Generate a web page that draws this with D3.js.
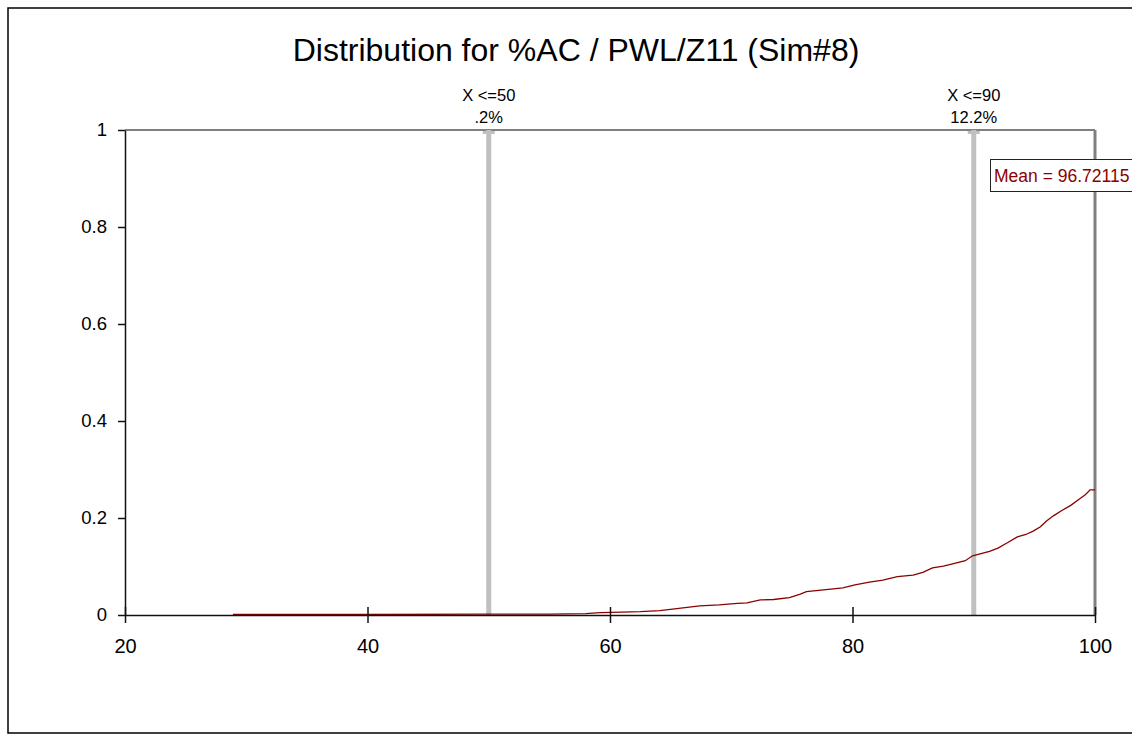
<html>
<head>
<script src='https://d3js.org/d3.v7.min.js'></script>
<style>
body { margin: 0; background: #fff; }
text { font-family: 'Liberation Sans', Arial, sans-serif; }
.frame { fill: none; stroke: #000; stroke-width: 1.5px; }
.axis path, .axis line { stroke: #111; stroke-width: 1.5px; }
.axis text { fill: #000; }
.curve { fill: none; stroke: #8b0000; stroke-width: 1.3px; }
.marker { stroke: #c0c0c0; stroke-width: 5px; }
</style>
</head>
<body>
<svg id="chart" width=1132 height=734></svg>
<script>
// cumulative curve
var xs = [28.9, 40, 50, 55, 58, 59.2, 61, 62.5, 64.1, 65.5, 67.4, 69, 70.5, 71.3, 72.4, 73.5, 74.8, 75.7, 76.2, 77.6,
          79.2, 80.2, 81.4, 82.5, 83.7, 85.0, 85.8, 86.6, 87.5, 88.5, 89.3, 89.9, 91.3, 92.0, 92.7, 93.6, 94.3, 94.9,
          95.5, 96.0, 96.6, 97.3, 98.0, 98.6, 99.2, 99.6, 100];
var ys = [0.001, 0.001, 0.002, 0.002, 0.003, 0.005, 0.006, 0.007, 0.009, 0.013, 0.019, 0.021, 0.024, 0.025, 0.031, 0.032, 0.036, 0.043, 0.048, 0.052,
          0.056, 0.062, 0.068, 0.072, 0.079, 0.082, 0.088, 0.097, 0.101, 0.107, 0.112, 0.122, 0.131, 0.138, 0.148, 0.161, 0.166, 0.173,
          0.182, 0.194, 0.205, 0.216, 0.226, 0.237, 0.248, 0.258, 0.258];
var xTicks = [20, 40, 60, 80, 100];
var yTicks = [0, 0.2, 0.4, 0.6, 0.8, 1];
var markerX = [50, 90];
var markerLabel = ['X <=50', 'X <=90'];
var markerPct = ['.2%', '12.2%'];
var meanText = 'Mean = 96.72115';
var title = 'Distribution for %AC / PWL/Z11 (Sim#8)';

var chart = d3.select('#chart');
var x = d3.scaleLinear().domain([20, 100]).range([125, 1095]);
var y = d3.scaleLinear().domain([0, 1]).range([615, 130]);

// outer frame (runs off the right side)
chart.append('rect').attr('class', 'frame')
    .attr('x', 8).attr('y', 8).attr('width', 1140).attr('height', 725);

chart.append('text').attr('x', 576).attr('y', 61)
    .attr('text-anchor', 'middle').style('font-size', '32px').text(title);

// top and right plot borders
chart.append('line').attr('x1', x(20)).attr('x2', x(100)).attr('y1', y(1)).attr('y2', y(1))
    .attr('stroke', '#808080').attr('stroke-width', 2);
chart.append('line').attr('x1', x(100)).attr('x2', x(100)).attr('y1', y(1)).attr('y2', y(0))
    .attr('stroke', '#808080').attr('stroke-width', 3);

// markers
markerX.forEach(function(v, i) {
    chart.append('line').attr('class', 'marker')
        .attr('x1', x(v)).attr('x2', x(v)).attr('y1', y(1)).attr('y2', y(0));
    chart.append('rect').attr('x', x(v) - 6).attr('y', y(1) + 1).attr('width', 12).attr('height', 3)
        .attr('fill', '#c0c0c0');
    chart.append('text').attr('x', x(v)).attr('y', 101).attr('text-anchor', 'middle')
        .style('font-size', '16.5px').text(markerLabel[i]);
    chart.append('text').attr('x', x(v)).attr('y', 123).attr('text-anchor', 'middle')
        .style('font-size', '16.5px').text(markerPct[i]);
});

// curve
var pts = xs.map(function(d, i) { return [d, ys[i]]; });
chart.append('path').datum(pts).attr('class', 'curve')
    .attr('d', d3.line().x(function(d) { return x(d[0]); }).y(function(d) { return y(d[1]); }));

// axes
var xAxis = chart.append('g').attr('class', 'axis')
    .attr('transform', 'translate(0,' + y(0) + ')')
    .call(d3.axisBottom(x).tickValues(xTicks).tickSizeInner(8).tickSizeOuter(0).tickPadding(16));
xAxis.selectAll('.tick line').attr('y1', -8);
xAxis.selectAll('text').style('font-size', '20px');

var yAxis = chart.append('g').attr('class', 'axis')
    .attr('transform', 'translate(' + x(20) + ',0)')
    .call(d3.axisLeft(y).tickValues(yTicks).tickSizeInner(7).tickSizeOuter(0).tickPadding(11)
        .tickFormat(function(d) { return d === 0 ? '0' : d === 1 ? '1' : d3.format('.1f')(d); }));
yAxis.selectAll('text').style('font-size', '18.5px');

// mean box
chart.append('rect').attr('x', 990.5).attr('y', 159.5).attr('width', 160).attr('height', 32)
    .attr('fill', '#fff').attr('stroke', '#222').attr('stroke-width', 1);
chart.append('text').attr('x', 994).attr('y', 182).attr('fill', '#8b0000')
    .style('font-size', '17.5px').text(meanText);
</script>
</body>
</html>
